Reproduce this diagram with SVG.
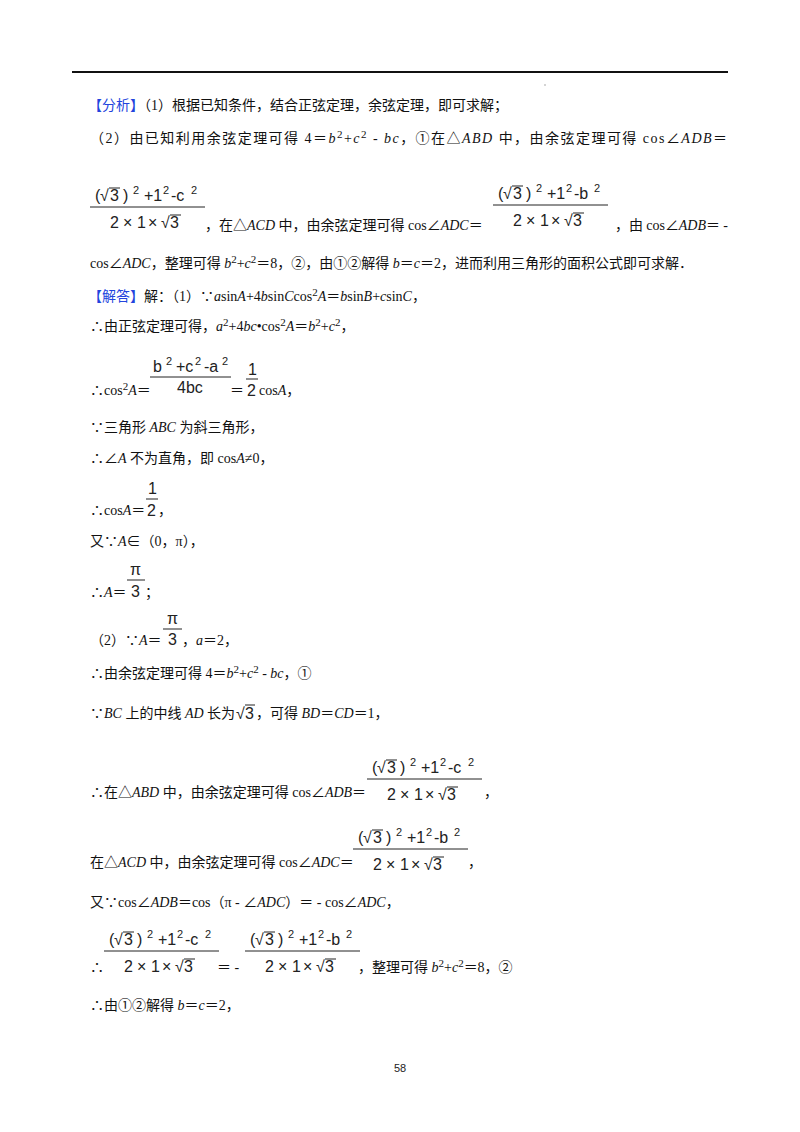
<svg xmlns="http://www.w3.org/2000/svg" width="800" height="1132" viewBox="0 0 800 1132">
<style>
.t{font-family:"Liberation Serif","Noto Sans CJK SC",serif;font-size:14px;fill:#111}
.b{fill:#2244dd}
.f{font-family:"Liberation Sans","Noto Sans CJK SC",sans-serif;font-size:16px;fill:#222}
.s{font-size:11px}
.i{font-style:italic}
.ln{stroke:#222;stroke-width:1}
</style>
<defs>
<g id="num">
<text class="f"><tspan x="5" y="0">(</tspan><tspan x="10" y="0">√</tspan><tspan x="20" y="0">3</tspan><tspan x="33" y="0">)</tspan><tspan class="s" x="43" y="-7">2</tspan><tspan x="54" y="0">+1</tspan><tspan class="s" x="73" y="-7">2</tspan></text>
<line class="ln" x1="19" y1="-13" x2="30" y2="-13"/>
<line class="ln" x1="0" y1="6" x2="115" y2="6"/>
<text class="f"><tspan x="20" y="27">2</tspan><tspan x="33" y="27">×</tspan><tspan x="47" y="27">1</tspan><tspan x="58" y="27">×</tspan><tspan x="71" y="27">√</tspan><tspan x="80" y="27">3</tspan></text>
<line class="ln" x1="80" y1="14" x2="91" y2="14"/>
</g>
<g id="fc">
<use href="#num"/>
<text class="f"><tspan x="81" y="0">-c</tspan><tspan class="s" x="101" y="-7">2</tspan></text>
</g>
<g id="fb">
<use href="#num"/>
<text class="f"><tspan x="81" y="0">-b</tspan><tspan class="s" x="101" y="-7">2</tspan></text>
</g>
</defs>
<rect width="800" height="1132" fill="#fff"/>
<line x1="72" y1="72" x2="728" y2="72" stroke="#111" stroke-width="2"/>
<circle cx="545" cy="85" r="0.7" fill="#888"/>

<text class="t" x="88" y="110"><tspan class="b">【分析】</tspan>（1）根据已知条件，结合正弦定理，余弦定理，即可求解；</text>
<text class="t" x="90" y="143" textLength="637" lengthAdjust="spacing">（2）由已知利用余弦定理可得 4＝<tspan class="i">b</tspan><tspan class="s" dy="-5">2</tspan><tspan dy="5">+</tspan><tspan class="i">c</tspan><tspan class="s" dy="-5">2</tspan><tspan dy="5"> - </tspan><tspan class="i">bc</tspan>，①在△<tspan class="i">ABD</tspan> 中，由余弦定理可得 cos∠<tspan class="i">ADB</tspan>＝</text>

<use href="#fc" x="90" y="201"/>
<text class="t" x="205" y="230">，在△<tspan class="i">ACD</tspan> 中，由余弦定理可得 cos∠<tspan class="i">ADC</tspan>＝</text>
<use href="#fb" x="493" y="199"/>
<text class="t" x="615" y="230" textLength="113" lengthAdjust="spacing">，由 cos∠<tspan class="i">ADB</tspan>＝ -</text>
<text class="t" x="90" y="268">cos∠<tspan class="i">ADC</tspan>，整理可得 <tspan class="i">b</tspan><tspan class="s" dy="-5">2</tspan><tspan dy="5">+</tspan><tspan class="i">c</tspan><tspan class="s" dy="-5">2</tspan><tspan dy="5">＝8，②，由①②解得 </tspan><tspan class="i">b</tspan>＝<tspan class="i">c</tspan>＝2，进而利用三角形的面积公式即可求解．</text>

<text class="t" x="88" y="301"><tspan class="b">【解答】</tspan>解：（1）∵<tspan class="i">a</tspan>sin<tspan class="i">A</tspan>+4<tspan class="i">b</tspan>sin<tspan class="i">C</tspan>cos<tspan class="s" dy="-5">2</tspan><tspan class="i" dy="5">A</tspan>＝<tspan class="i">b</tspan>sin<tspan class="i">B</tspan>+<tspan class="i">c</tspan>sin<tspan class="i">C</tspan>，</text>
<text class="t" x="90" y="331">∴由正弦定理可得，<tspan class="i">a</tspan><tspan class="s" dy="-5">2</tspan><tspan dy="5">+4</tspan><tspan class="i">bc</tspan>•cos<tspan class="s" dy="-5">2</tspan><tspan class="i" dy="5">A</tspan>＝<tspan class="i">b</tspan><tspan class="s" dy="-5">2</tspan><tspan dy="5">+</tspan><tspan class="i">c</tspan><tspan class="s" dy="-5">2</tspan><tspan dy="5">，</tspan></text>

<text class="t" x="90" y="395">∴cos<tspan class="s" dy="-5">2</tspan><tspan class="i" dy="5">A</tspan>＝</text>
<text class="f"><tspan x="153" y="372">b</tspan><tspan class="s" x="166" y="365">2</tspan><tspan x="176" y="372">+c</tspan><tspan class="s" x="195" y="365">2</tspan><tspan x="204" y="372">-a</tspan><tspan class="s" x="222" y="365">2</tspan></text>
<line class="ln" x1="150" y1="377" x2="231" y2="377"/>
<text class="f" x="177" y="393">4bc</text>
<text class="t" x="230" y="395">＝</text>
<text class="f" x="248" y="375" font-size="17">1</text>
<line class="ln" x1="246" y1="379" x2="258" y2="379"/>
<text class="f" x="247" y="396" font-size="17">2</text>
<text class="t" x="259" y="395">cos<tspan class="i">A</tspan>，</text>

<text class="t" x="90" y="432">∵三角形 <tspan class="i">ABC</tspan> 为斜三角形，</text>
<text class="t" x="90" y="463">∴∠<tspan class="i">A</tspan> 不为直角，即 cos<tspan class="i">A</tspan>≠0，</text>

<text class="t" x="90" y="515">∴cos<tspan class="i">A</tspan>＝</text>
<text class="f" x="148" y="494" font-size="17">1</text>
<line class="ln" x1="146" y1="499" x2="158" y2="499"/>
<text class="f" x="147" y="516" font-size="17">2</text>
<text class="t" x="158" y="515">，</text>

<text class="t" x="90" y="546">又∵<tspan class="i">A</tspan>∈（0，π），</text>

<text class="t" x="90" y="597">∴<tspan class="i">A</tspan>＝</text>
<text class="f" x="130" y="575" font-size="17">π</text>
<line class="ln" x1="127" y1="580" x2="145" y2="580"/>
<text class="f" x="131" y="597" font-size="17">3</text>
<text class="t" x="145" y="597">；</text>

<text class="t" x="90" y="645">（2）∵<tspan class="i">A</tspan>＝</text>
<text class="f" x="167" y="624" font-size="17">π</text>
<line class="ln" x1="163" y1="629" x2="182" y2="629"/>
<text class="f" x="168" y="645" font-size="17">3</text>
<text class="t" x="182" y="645">，<tspan class="i">a</tspan>＝2，</text>

<text class="t" x="90" y="678">∴由余弦定理可得 4＝<tspan class="i">b</tspan><tspan class="s" dy="-5">2</tspan><tspan dy="5">+</tspan><tspan class="i">c</tspan><tspan class="s" dy="-5">2</tspan><tspan dy="5"> - </tspan><tspan class="i">bc</tspan>，①</text>

<text class="t" x="90" y="718">∵<tspan class="i">BC</tspan> 上的中线 <tspan class="i">AD</tspan> 长为</text>
<text class="f"><tspan x="236" y="719">√</tspan><tspan x="245" y="719">3</tspan></text>
<line class="ln" x1="245" y1="705" x2="255" y2="705"/>
<text class="t" x="256" y="718">，可得 <tspan class="i">BD</tspan>＝<tspan class="i">CD</tspan>＝1，</text>

<text class="t" x="90" y="797">∴在△<tspan class="i">ABD</tspan> 中，由余弦定理可得 cos∠<tspan class="i">ADB</tspan>＝</text>
<use href="#fc" x="367" y="773"/>
<text class="t" x="484" y="797">，</text>

<text class="t" x="90" y="867">在△<tspan class="i">ACD</tspan> 中，由余弦定理可得 cos∠<tspan class="i">ADC</tspan>＝</text>
<use href="#fb" x="353" y="843"/>
<text class="t" x="468" y="867">，</text>

<text class="t" x="90" y="907">又∵cos∠<tspan class="i">ADB</tspan>＝cos（π - ∠<tspan class="i">ADC</tspan>）＝ - cos∠<tspan class="i">ADC</tspan>，</text>

<text class="t" x="90" y="972">∴</text>
<use href="#fc" x="104" y="945"/>
<text class="t" x="217" y="972">＝ -</text>
<use href="#fb" x="245" y="945"/>
<text class="t" x="358" y="972">，整理可得 <tspan class="i">b</tspan><tspan class="s" dy="-5">2</tspan><tspan dy="5">+</tspan><tspan class="i">c</tspan><tspan class="s" dy="-5">2</tspan><tspan dy="5">＝8，②</tspan></text>

<text class="t" x="90" y="1010">∴由①②解得 <tspan class="i">b</tspan>＝<tspan class="i">c</tspan>＝2，</text>

<text x="400" y="1072" text-anchor="middle" font-family="Liberation Sans, sans-serif" font-size="11" fill="#222">58</text>
</svg>
